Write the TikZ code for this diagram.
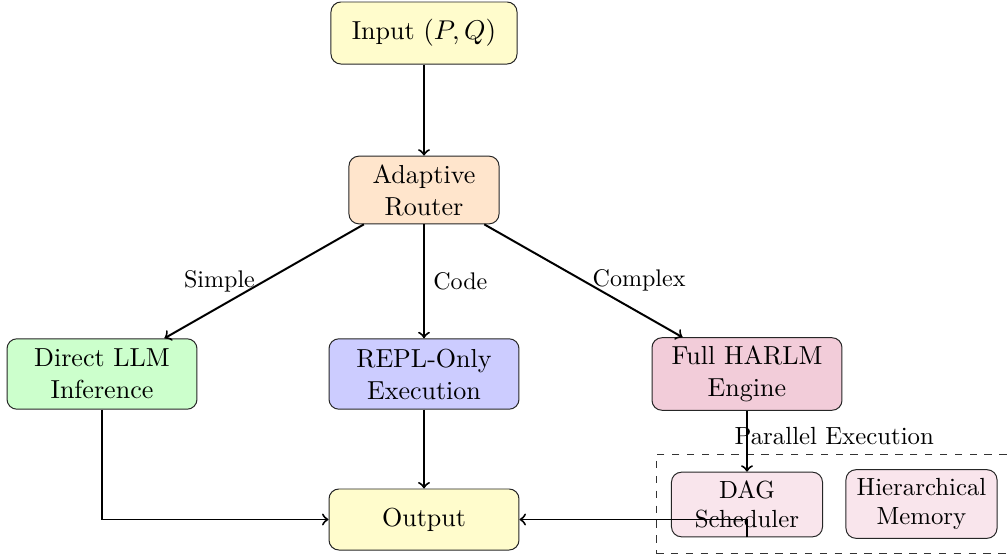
\documentclass[tikz,border=0pt]{standalone}
\usetikzlibrary{fit}
\begin{document}
\begin{tikzpicture}[x=0.4032pt,y=-0.4032pt,
  box/.style={draw=black!85, rounded corners=4pt, align=center, inner sep=3.33pt},
  big/.style={box, font=\fontsize{10.5}{12.9}\selectfont},
  wide/.style={big, minimum width=76.6pt, minimum height=28.4pt},
  small/.style={box, minimum width=60.9pt},
  arr/.style={->, thick},
  lab/.style={font=\fontsize{9.7}{11.6}\selectfont}]
\useasboundingbox (0,0) rectangle (1008,555);
\node[big, fill=yellow!20, minimum width=75pt, minimum height=25pt] (in) at (424,33) {Input $(P,Q)$};
\node[big, fill=orange!20, minimum width=60.5pt] (router) at (424,190) {Adaptive\\Router};
\node[wide, fill=green!20] (direct) at (102,374) {Direct LLM\\Inference};
\node[wide, fill=blue!20] (repl) at (424,374) {REPL-Only\\Execution};
\node[wide, fill=purple!20] (full) at (747,374) {Full HARLM\\Engine};
\node[big, fill=yellow!20, minimum width=76.6pt, minimum height=24.6pt] (out) at (424,519.5) {Output};
\node[small, fill=purple!10] (dag) at (747,504.5) {DAG\\Scheduler};
\node[small, fill=purple!10] (mem) at (921.5,504) {Hierarchical\\Memory};
\node[draw=black!80, dashed, fit=(dag)(mem), inner sep=6pt,
      label={[inner sep=3.33pt]above:Parallel Execution}] (par) {};
\draw[arr] (in) -- (router);
\draw[arr] (router) -- node[midway, left, lab] {Simple} (direct);
\draw[arr] (router) -- node[midway, right, lab] {Code} (repl);
\draw[arr] (router) -- node[midway, right, lab] {Complex} (full);
\draw[arr] (direct.south) |- (out.west);
\draw[arr] (repl) -- (out);
\draw[arr] (full) -- (dag);
\draw[arr] (dag.south) |- (out.east);
\end{tikzpicture}
\end{document}
